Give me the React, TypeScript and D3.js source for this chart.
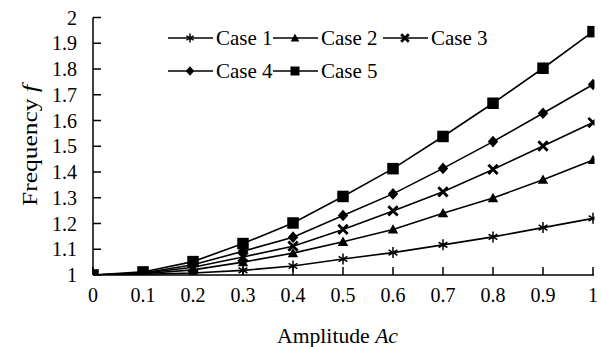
import React from "react";
import * as d3 from "d3";

const amplitudes = [0, 0.1, 0.2, 0.3, 0.4, 0.5, 0.6, 0.7, 0.8, 0.9, 1];
const case1 = [1.0, 1.003, 1.008, 1.018, 1.035, 1.062, 1.087, 1.117, 1.148, 1.184, 1.22];
const case2 = [1.0, 1.005, 1.02, 1.05, 1.085, 1.129, 1.177, 1.24, 1.299, 1.37, 1.447];
const case3 = [1.0, 1.007, 1.03, 1.07, 1.112, 1.177, 1.249, 1.323, 1.41, 1.501, 1.592];
const case4 = [1.0, 1.008, 1.04, 1.092, 1.147, 1.231, 1.315, 1.414, 1.518, 1.628, 1.74];
const case5 = [1.0, 1.012, 1.052, 1.122, 1.202, 1.305, 1.413, 1.538, 1.667, 1.803, 1.945];
const seriesNames = ["Case 1", "Case 2", "Case 3", "Case 4", "Case 5"];
const markerTypes = ["star", "triangle", "cross", "diamond", "square"];
const xTicks = [0, 0.1, 0.2, 0.3, 0.4, 0.5, 0.6, 0.7, 0.8, 0.9, 1];
const yTicks = [1, 1.1, 1.2, 1.3, 1.4, 1.5, 1.6, 1.7, 1.8, 1.9, 2];

const W = 602, H = 347;
const L = 93, R = 593, T = 17.5, B = 275;
const FONT = "'Liberation Serif', 'Times New Roman', serif";

function Marker({ type, x, y, s }: { type: string; x: number; y: number; s: number }) {
  const h = s / 2;
  if (type === "square") return <rect x={x - h} y={y - h} width={s} height={s} fill="#000" />;
  if (type === "diamond")
    return <path d={`M${x},${y - h * 1.05}L${x + h * 0.95},${y}L${x},${y + h * 1.05}L${x - h * 0.95},${y}Z`} fill="#000" />;
  if (type === "triangle")
    return <path d={`M${x},${y - h * 0.95}L${x + h * 0.95},${y + h * 0.75}L${x - h * 0.95},${y + h * 0.75}Z`} fill="#000" />;
  if (type === "cross") {
    const c = h * 0.85;
    return (
      <path d={`M${x - c},${y - c}L${x + c},${y + c}M${x - c},${y + c}L${x + c},${y - c}`} stroke="#000" strokeWidth={2.8} fill="none" />
    );
  }
  const c = h * 0.8;
  return (
    <path
      d={`M${x},${y - h}L${x},${y + h}M${x - c},${y - c * 0.6}L${x + c},${y + c * 0.6}M${x - c},${y + c * 0.6}L${x + c},${y - c * 0.6}`}
      stroke="#000"
      strokeWidth={1.5}
      fill="none"
    />
  );
}

export default function App() {
  const x = d3.scaleLinear().domain([0, 1]).range([L, R]);
  const y = d3.scaleLinear().domain([1, 2]).range([B, T]);
  const all = [case1, case2, case3, case4, case5];
  const line = d3
    .line<number>()
    .x((_, i) => x(amplitudes[i]))
    .y((d) => y(d));

  const legendPos = [
    [168, 38],
    [273, 38],
    [383, 38],
    [168, 71],
    [273, 71],
  ];

  return (
    <svg width={W} height={H} style={{ position: "absolute", left: 0, top: 0, background: "#fff" }} fontFamily={FONT}>
      <defs>
        <clipPath id="plot">
          <rect x={L} y={T - 8} width={R - L + 1.5} height={B - T + 8} />
        </clipPath>
      </defs>
      <rect width={W} height={H} fill="#fff" />
      <g clipPath="url(#plot)">
        {all.map((vals, si) => (
          <g key={si}>
            <path d={line(vals) || ""} fill="none" stroke="#000" strokeWidth={1.6} />
            {vals.map((v, i) => (
              <Marker key={i} type={markerTypes[si]} x={x(amplitudes[i])} y={y(v)} s={si === 4 ? 11.5 : 11} />
            ))}
          </g>
        ))}
      </g>
      <line x1={L} y1={T} x2={L} y2={B} stroke="#000" strokeWidth={1.5} />
      <line x1={L} y1={B} x2={R + 1} y2={B} stroke="#000" strokeWidth={1.5} />
      {yTicks.map((t) => (
        <g key={"y" + t}>
          <line x1={L} x2={L + 8} y1={y(t)} y2={y(t)} stroke="#000" strokeWidth={1.5} />
          <text x={77} y={y(t)} dy="0.35em" textAnchor="end" fontSize={20} fill="#000">
            {+t.toFixed(1)}
          </text>
        </g>
      ))}
      {xTicks.map((t) => (
        <g key={"x" + t}>
          <line x1={x(t)} x2={x(t)} y1={B} y2={B - 8} stroke="#000" strokeWidth={1.5} />
          <text x={x(t)} y={302} textAnchor="middle" fontSize={20} fill="#000">
            {+t.toFixed(1)}
          </text>
        </g>
      ))}
      <text x={277} y={343} fontSize={22} fill="#000" textLength={121} lengthAdjust="spacingAndGlyphs">
        Amplitude <tspan fontStyle="italic">Ac</tspan>
      </text>
      <text transform={`translate(37,206) rotate(-90)`} fontSize={22} fill="#000" textLength={121} lengthAdjust="spacingAndGlyphs">
        Frequency <tspan fontStyle="italic">f</tspan>
      </text>
      {seriesNames.map((n, i) => {
        const [lx, ly] = legendPos[i];
        return (
          <g key={n}>
            <line x1={lx} x2={lx + 45} y1={ly} y2={ly} stroke="#000" strokeWidth={1.5} />
            <Marker type={markerTypes[i]} x={lx + 22} y={ly} s={9} />
            <text x={lx + 48} y={ly} dy="0.35em" fontSize={21} fill="#000">
              {n}
            </text>
          </g>
        );
      })}
    </svg>
  );
}
